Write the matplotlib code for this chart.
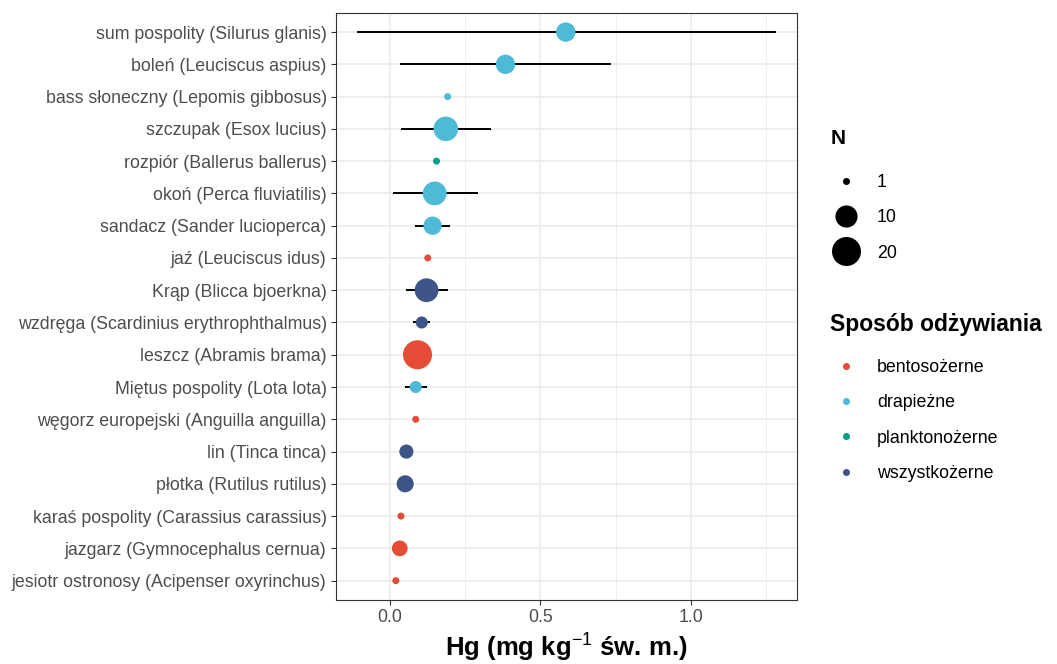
import numpy as np
import matplotlib
matplotlib.use("Agg")
import matplotlib.pyplot as plt
from matplotlib.lines import Line2D

plt.rcParams['font.family'] = ['Liberation Sans', 'DejaVu Sans']
plt.rcParams['mathtext.fontset'] = 'custom'
plt.rcParams['mathtext.rm'] = 'Liberation Sans'
plt.rcParams['mathtext.it'] = 'Liberation Sans'
plt.rcParams['mathtext.bf'] = 'Liberation Sans:bold'

species = [
    "sum pospolity (Silurus glanis)",
    "boleń (Leuciscus aspius)",
    "bass słoneczny (Lepomis gibbosus)",
    "szczupak (Esox lucius)",
    "rozpiór (Ballerus ballerus)",
    "okoń (Perca fluviatilis)",
    "sandacz (Sander lucioperca)",
    "jaź (Leuciscus idus)",
    "Krąp (Blicca bjoerkna)",
    "wzdręga (Scardinius erythrophthalmus)",
    "leszcz (Abramis brama)",
    "Miętus pospolity (Lota lota)",
    "węgorz europejski (Anguilla anguilla)",
    "lin (Tinca tinca)",
    "płotka (Rutilus rutilus)",
    "karaś pospolity (Carassius carassius)",
    "jazgarz (Gymnocephalus cernua)",
    "jesiotr ostronosy (Acipenser oxyrinchus)",
]
hg_mean = [0.584, 0.384, 0.192, 0.186, 0.155, 0.149, 0.142, 0.126, 0.122,
           0.106, 0.092, 0.086, 0.086, 0.055, 0.051, 0.037, 0.033, 0.020]
hg_low = [-0.110, 0.035, np.nan, 0.037, np.nan, 0.009, 0.085, np.nan, 0.053,
          0.077, 0.055, 0.050, np.nan, np.nan, np.nan, np.nan, np.nan, np.nan]
hg_high = [1.281, 0.735, np.nan, 0.337, np.nan, 0.292, 0.199, np.nan, 0.192,
           0.132, 0.140, 0.124, np.nan, np.nan, np.nan, np.nan, np.nan, np.nan]
n_fish = [7, 7, 1, 13, 1, 12, 6, 1, 12, 2, 20, 2, 1, 3, 5, 1, 4, 1]
diet = ["drapieżne", "drapieżne", "drapieżne", "drapieżne", "planktonożerne",
        "drapieżne", "drapieżne", "bentosożerne", "wszystkożerne", "wszystkożerne",
        "bentosożerne", "drapieżne", "bentosożerne", "wszystkożerne", "wszystkożerne",
        "bentosożerne", "bentosożerne", "bentosożerne"]
diet_levels = ["bentosożerne", "drapieżne", "planktonożerne", "wszystkożerne"]
diet_colors = ["#E64B35", "#4DBBD5", "#00A087", "#3C5488"]
n_legend = [1, 10, 20]

W, H = 1057, 664
DPI = 100
px2pt = 72.0 / DPI
FS = 12.8


def diam_px(n):
    return 7.0 + 5.05 * np.sqrt(np.asarray(n, dtype=float) - 1.0)


fig = plt.figure(figsize=(W / DPI, H / DPI), dpi=DPI)
ax = fig.add_axes([335.7 / W, 1 - 600 / H, (796.7 - 335.7) / W, (600 - 12.7) / H])

nrow = len(species)
ypos = np.arange(nrow)[::-1]
cmap = dict(zip(diet_levels, diet_colors))

lo = np.array(hg_low, dtype=float)
hi = np.array(hg_high, dtype=float)
ok = ~np.isnan(lo)
ax.hlines(ypos[ok], lo[ok], hi[ok], color="black", lw=1.42, zorder=3)

sizes = (diam_px(n_fish) * px2pt) ** 2
ax.scatter(hg_mean, ypos, s=sizes, c=[cmap[d] for d in diet], edgecolors="none", zorder=4)

allx = np.concatenate([hg_mean, lo[ok], hi[ok]])
rng = allx.max() - allx.min()
ax.set_xlim(allx.min() - 0.05 * rng, allx.max() + 0.05 * rng)
ax.set_ylim(-0.6, nrow - 1 + 0.6)
ax.set_yticks(ypos)
ax.set_yticklabels(species)
ax.set_xticks([0.0, 0.5, 1.0])
ax.set_xticklabels(["0.0", "0.5", "1.0"])
ax.set_xticks([0.25, 0.75, 1.25], minor=True)

ax.grid(True, which="major", color="#EBEBEB", lw=1.1, zorder=0)
ax.grid(True, which="minor", axis="x", color="#EBEBEB", lw=0.55, zorder=0)
ax.set_axisbelow(True)
for sp in ax.spines.values():
    sp.set_color("#333333")
    sp.set_linewidth(0.8)
ax.tick_params(axis="both", which="major", colors="#333333", length=3.5, width=0.8,
               labelcolor="#4D4D4D", labelsize=FS, pad=3)
ax.tick_params(axis="x", which="minor", length=0)

ax.set_xlabel(r"Hg (mg kg$^{-1}$ św. m.)", fontsize=18.5, fontweight="bold", labelpad=4)

# size legend
fig.text(831 / W, 1 - 138 / H, "N", fontsize=15, fontweight="bold", va="center", ha="left")
h_size = [Line2D([], [], marker="o", ls="", color="black", markeredgewidth=0,
                 markersize=diam_px(n) * px2pt) for n in n_legend]
fig.legend(h_size, [str(n) for n in n_legend], loc="upper left",
           bbox_to_anchor=(828 / W, 1 - 174 / H), frameon=False,
           fontsize=FS, handlelength=2.0, handleheight=0.7, labelspacing=1.03,
           handletextpad=0.75, borderpad=0, borderaxespad=0)

fig.text(830 / W, 1 - 325 / H, "Sposób odżywiania", fontsize=16.5, fontweight="bold",
         va="center", ha="left")
h_col = [Line2D([], [], marker="o", ls="", color=c, markeredgewidth=0,
                markersize=7 * px2pt) for c in diet_colors]
fig.legend(h_col, diet_levels, loc="upper left",
           bbox_to_anchor=(828 / W, 1 - 359 / H), frameon=False,
           fontsize=FS, handlelength=2.0, handleheight=0.7, labelspacing=1.03,
           handletextpad=0.75, borderpad=0, borderaxespad=0)

fig.savefig("out.png", dpi=DPI)
